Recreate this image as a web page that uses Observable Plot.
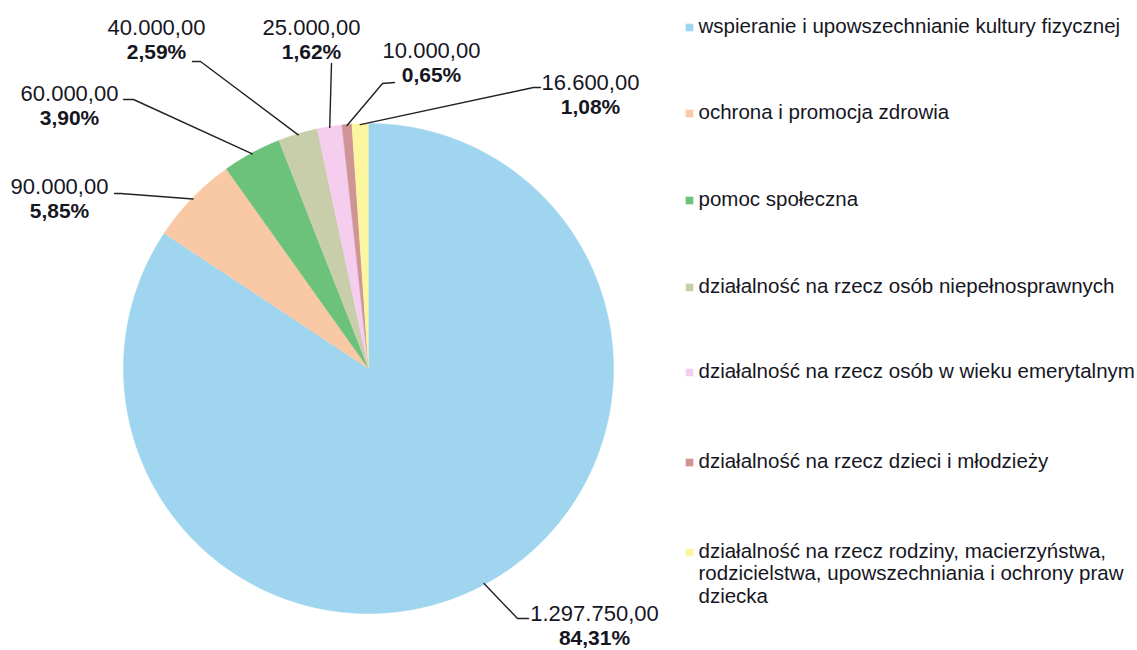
<!DOCTYPE html>
<html><head><meta charset="utf-8">
<script src="https://cdn.jsdelivr.net/npm/d3@7"></script>
<script src="https://cdn.jsdelivr.net/npm/@observablehq/plot@0.6"></script>
<style>body{margin:0;background:#fff;font-family:"Liberation Sans",Arial,sans-serif}</style>
</head><body><div id="chart"></div>
<script>
// ---- data ----
const categories = [
  "wspieranie i upowszechnianie kultury fizycznej",
  "ochrona i promocja zdrowia",
  "pomoc społeczna",
  "działalność na rzecz osób niepełnosprawnych",
  "działalność na rzecz osób w wieku emerytalnym",
  "działalność na rzecz dzieci i młodzieży",
  "działalność na rzecz rodziny, macierzyństwa, rodzicielstwa, upowszechniania i ochrony praw dziecka"
];
const legendLabels = [
  "wspieranie i upowszechnianie kultury fizycznej",
  "ochrona i promocja zdrowia",
  "pomoc społeczna",
  "działalność na rzecz osób niepełnosprawnych",
  "działalność na rzecz osób w wieku emerytalnym",
  "działalność na rzecz dzieci i młodzieży",
  "działalność na rzecz rodziny, macierzyństwa,\nrodzicielstwa, upowszechniania i ochrony praw\ndziecka"
];
const values = [1297750, 90000, 60000, 40000, 25000, 10000, 16600];
const valueLabels = ["1.297.750,00", "90.000,00", "60.000,00", "40.000,00", "25.000,00", "10.000,00", "16.600,00"];
const percentLabels = ["84,31%", "5,85%", "3,90%", "2,59%", "1,62%", "0,65%", "1,08%"];

// ---- styles ----
const colors = ["#9fd5ee", "#f8c9a4", "#6cc27b", "#c8cea9", "#f4cdef", "#cf9595", "#fcf6a0"];
const textColor = "#16161f";

// ---- layout ----
const W = 1137, H = 650, cx = 368, cy = 368, R = 245;
const labelX = [594, 59, 69, 156, 311, 431, 590];
const labelY = [613, 186, 93, 27, 27, 50, 82];
const leaderElbow = [[517,618],[120,193],[133,99],[200,61],[331,63],[382,83],[533,87]];
const leaderEnd = [[528,618],[114,193],[123,99],[192,61],[331,63],[394,82],[540,87]];
const legendX = 689, legendTextX = 698;
const legendY = [27, 113, 200, 287, 372, 462, 552];

// ---- build ----
const arcs = d3.pie().sort(null).startAngle(0).endAngle(2 * Math.PI)(values);
const slicePts = [];
const leaderPts = [];
arcs.forEach((a, i) => {
  const cat = categories[i];
  slicePts.push({cat, x: cx, y: cy});
  const n = Math.max(4, Math.ceil((a.endAngle - a.startAngle) / (Math.PI / 360)));
  for (let k = 0; k <= n; k++) {
    const ang = a.startAngle + (a.endAngle - a.startAngle) * k / n;
    slicePts.push({cat, x: cx + R * Math.sin(ang), y: cy - R * Math.cos(ang)});
  }
  const mid = (a.startAngle + a.endAngle) / 2;
  leaderPts.push({cat, x: cx + (R - 1) * Math.sin(mid), y: cy - (R - 1) * Math.cos(mid)});
  leaderPts.push({cat, x: leaderElbow[i][0], y: leaderElbow[i][1]});
  leaderPts.push({cat, x: leaderEnd[i][0], y: leaderEnd[i][1]});
});
const labels = categories.map((c, i) => ({cat: c, x: labelX[i], y: labelY[i], v: valueLabels[i], p: percentLabels[i]}));
const legend = categories.map((c, i) => ({cat: c, y: legendY[i], t: legendLabels[i]}));

const chart = Plot.plot({
  width: W, height: H, margin: 0,
  style: {fontFamily: '"Liberation Sans", Arial, sans-serif', background: "#fff", color: textColor},
  x: {domain: [0, W], range: [0, W], axis: null},
  y: {domain: [0, H], range: [0, H], axis: null},
  color: {domain: categories, range: colors},
  marks: [
    Plot.line(slicePts, {x: "x", y: "y", z: "cat", fill: "cat", stroke: "cat", strokeWidth: 0.5, curve: "linear"}),
    Plot.line(leaderPts, {x: "x", y: "y", z: "cat", stroke: "#222", strokeWidth: 1.4, curve: "linear"}),
    Plot.text(labels, {x: "x", y: "y", text: "v", fontSize: 22, fill: textColor}),
    Plot.text(labels, {x: "x", y: d => d.y + 25, text: "p", fontSize: 21, fontWeight: "bold", fill: textColor}),
    Plot.dot(legend, {x: legendX, y: "y", symbol: "square", r: 4.3, fill: "cat", stroke: "none"}),
    Plot.text(legend, {x: legendTextX, y: d => d.y - 11, text: "t", textAnchor: "start", lineAnchor: "top", lineHeight: 1.1, fontSize: 20.5, fill: textColor})
  ]
});
document.getElementById("chart").appendChild(chart);
</script>
</body></html>
